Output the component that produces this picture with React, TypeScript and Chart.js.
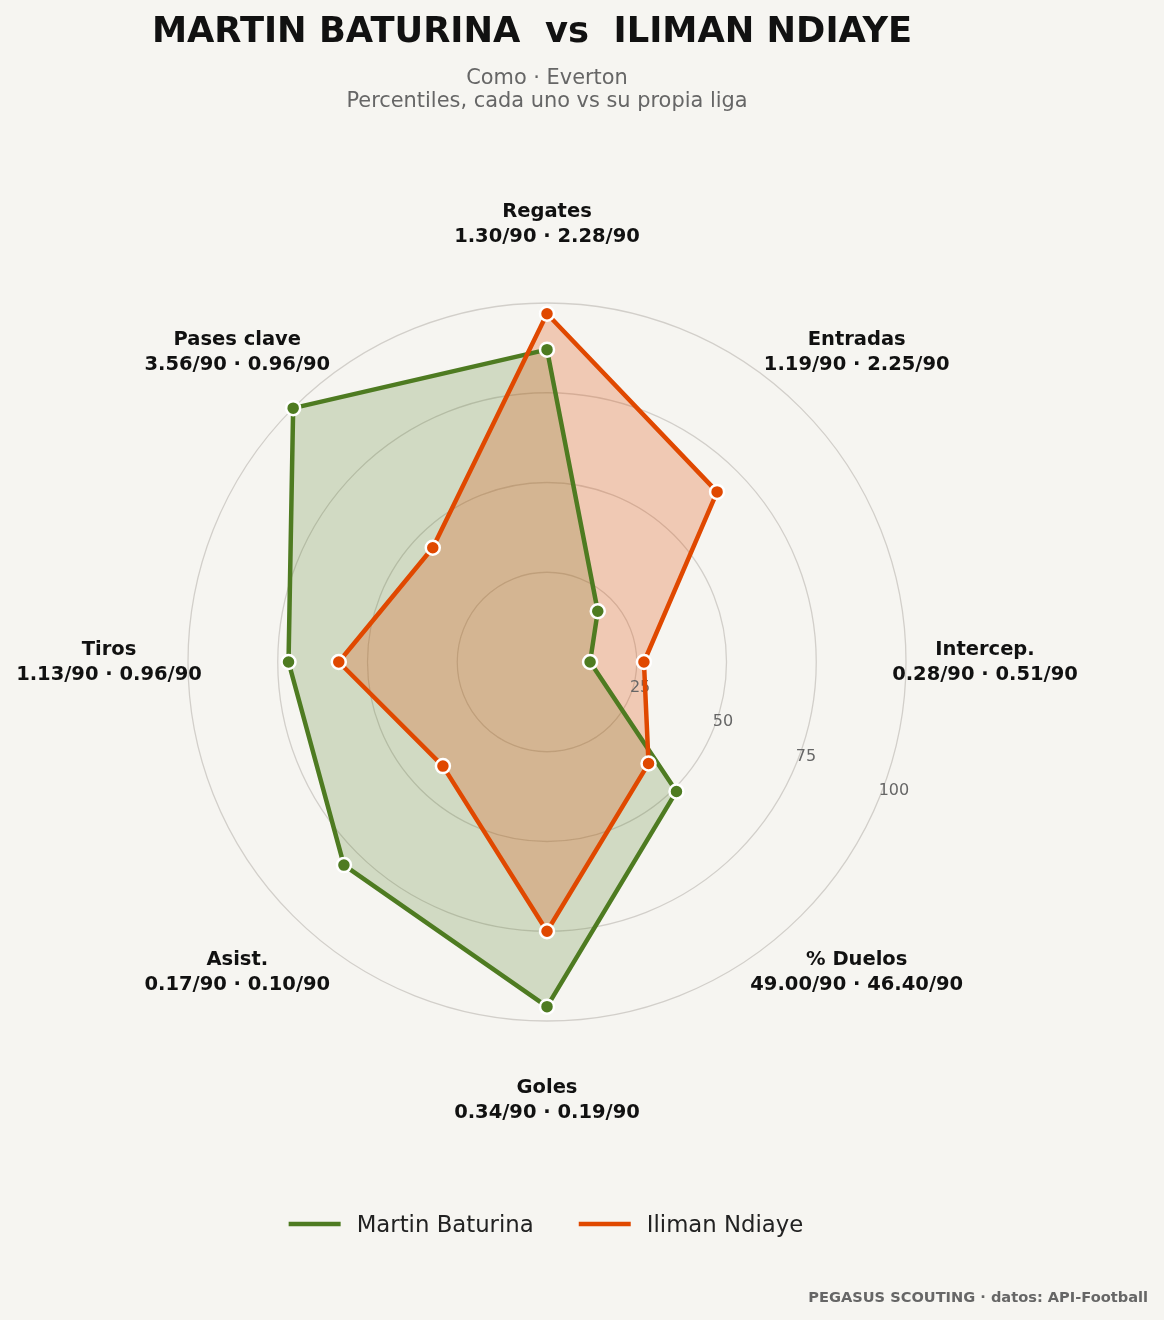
import React, { useEffect, useRef } from 'react'
import Chart from 'chart.js/auto'

// axis order runs clockwise from the top
const categories = ['Regates', 'Entradas', 'Intercep.', '% Duelos', 'Goles', 'Asist.', 'Tiros', 'Pases clave']
const baturinaPct = [87, 20, 12, 51, 96, 80, 72, 100]
const ndiayePct = [97, 67, 27, 40, 75, 41, 58, 45]
const baturinaP90 = [1.3, 1.19, 0.28, 49.0, 0.34, 0.17, 1.13, 3.56]
const ndiayeP90 = [2.28, 2.25, 0.51, 46.4, 0.19, 0.1, 0.96, 0.96]
const rTicks = [25, 50, 75, 100]

const GREEN = '#4e7b21'
const ORANGE = '#e04800'
const FONT = '"DejaVu Sans", "Noto Sans", sans-serif'

const radarText = {
  id: 'radarText',
  beforeDatasetsDraw(chart: any) {
    const scale = chart.scales.r
    const ctx = chart.ctx
    const a = Math.PI / 8
    ctx.save()
    ctx.font = `16px ${FONT}`
    ctx.fillStyle = '#666666'
    ctx.textAlign = 'left'
    ctx.textBaseline = 'alphabetic'
    rTicks.forEach((v) => {
      const d = scale.getDistanceFromCenterForValue(v)
      ctx.fillText(String(v), scale.xCenter + Math.cos(a) * d, scale.yCenter + Math.sin(a) * d - 4.5)
    })
    ctx.restore()
  },
  afterDraw(chart: any) {
    const scale = chart.scales.r
    const ctx = chart.ctx
    ctx.save()
    ctx.textBaseline = 'alphabetic'

    // axis labels with per-90 values
    ctx.textAlign = 'center'
    ctx.fillStyle = '#111111'
    ctx.font = `bold 19.5px ${FONT}`
    categories.forEach((c, i) => {
      const p = scale.getPointPosition(i, scale.drawingArea + 79)
      const vals = `${baturinaP90[i].toFixed(2)}/90 · ${ndiayeP90[i].toFixed(2)}/90`
      ctx.fillText(c, p.x, p.y - 7)
      ctx.fillText(vals, p.x, p.y + 18)
    })

    // title + subtitle
    ctx.font = `bold 35.3px ${FONT}`
    ctx.fillText('MARTIN BATURINA  vs  ILIMAN NDIAYE', 532, 42)
    ctx.fillStyle = '#666666'
    ctx.font = `20.9px ${FONT}`
    ctx.fillText('Como · Everton', 547, 83.5)
    ctx.fillText('Percentiles, cada uno vs su propia liga', 547, 107)

    // legend
    ctx.font = `22.8px ${FONT}`
    const items = chart.data.datasets.map((ds: any) => ({ label: ds.label, color: ds.borderColor, w: ctx.measureText(ds.label).width }))
    const total = items.reduce((s: number, it: any) => s + 52 + 16 + it.w, 0) + 45 * (items.length - 1)
    let x = 546 - total / 2
    items.forEach((it: any) => {
      ctx.strokeStyle = it.color
      ctx.lineWidth = 4.5
      ctx.beginPath()
      ctx.moveTo(x, 1224)
      ctx.lineTo(x + 52, 1224)
      ctx.stroke()
      ctx.fillStyle = '#222222'
      ctx.textAlign = 'left'
      ctx.fillText(it.label, x + 68, 1232)
      x += 52 + 16 + it.w + 45
    })

    // footer
    ctx.textAlign = 'right'
    ctx.fillStyle = '#666666'
    ctx.font = `bold 14.6px ${FONT}`
    ctx.fillText('PEGASUS SCOUTING · datos: API-Football', 1148, 1302)
    ctx.restore()
  },
}

const RadarChart = () => {
  const canvasRef = useRef<HTMLCanvasElement>(null)

  useEffect(() => {
    if (!canvasRef.current) return
    const ctx = canvasRef.current.getContext('2d')
    if (!ctx) return
    const chart = new Chart(ctx, {
      type: 'radar',
      data: {
        labels: categories,
        datasets: [
          {
            label: 'Martin Baturina',
            data: baturinaPct,
            borderColor: GREEN,
            backgroundColor: 'rgba(78, 123, 33, 0.22)',
            pointBackgroundColor: GREEN,
            pointBorderColor: '#ffffff',
            order: 2,
          },
          {
            label: 'Iliman Ndiaye',
            data: ndiayePct,
            borderColor: ORANGE,
            backgroundColor: 'rgba(224, 72, 0, 0.25)',
            pointBackgroundColor: ORANGE,
            pointBorderColor: '#ffffff',
            order: 1,
          },
        ],
      },
      options: {
        responsive: false,
        animation: false,
        layout: { padding: { left: 188, right: 258, top: 303, bottom: 299 } },
        elements: {
          line: { borderWidth: 4.5, tension: 0, fill: true, borderJoinStyle: 'round' },
          point: { radius: 7, borderWidth: 2.5, hoverRadius: 7 },
        },
        plugins: {
          legend: { display: false },
          title: { display: false },
          tooltip: { enabled: false },
          filler: { drawTime: 'beforeDatasetsDraw' },
        },
        scales: {
          r: {
            min: 0,
            max: 100,
            ticks: { stepSize: 25, display: false },
            grid: { circular: true, color: '#d2cfca', lineWidth: 1.3 },
            angleLines: { display: false },
            pointLabels: { display: false },
          },
        },
      },
      plugins: [radarText],
    } as any)
    return () => chart.destroy()
  }, [])

  return <canvas ref={canvasRef} width={1164} height={1320} style={{ display: 'block' }} />
}

export default function App() {
  return (
    <div style={{ position: 'absolute', left: 0, top: 0, width: 1164, height: 1320, background: '#f6f5f1' }}>
      <RadarChart />
    </div>
  )
}
